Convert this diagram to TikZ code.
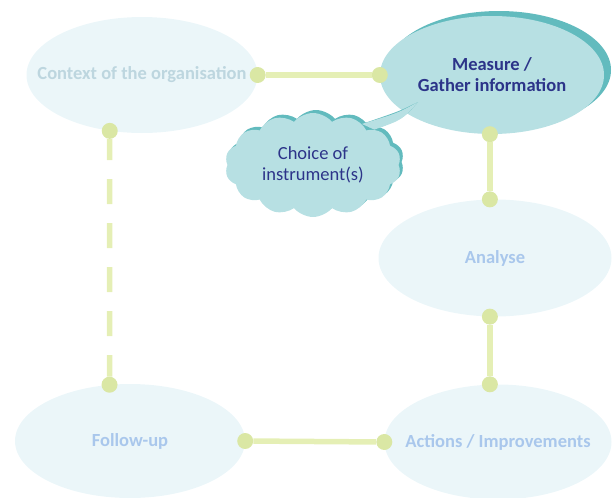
\documentclass[tikz,border=0pt]{standalone}
\usepackage{fontspec}
\setmainfont{Carlito}
\usetikzlibrary{shapes.geometric,shapes.symbols,shadows}
\definecolor{palefill}{HTML}{EBF6F9}
\definecolor{paletext}{HTML}{A9C7EC}
\definecolor{greytext}{HTML}{BDD6DF}
\definecolor{tealfill}{HTML}{B7E0E3}
\definecolor{tealedge}{HTML}{62BBBE}
\definecolor{navytext}{HTML}{2C3489}
\definecolor{linkgreen}{HTML}{E5EFB5}
\definecolor{knobgreen}{HTML}{DAE7A4}
\newcommand{\nowidth}[1]{\makebox[0pt]{#1}}

\begin{document}
\begin{tikzpicture}[x=1pt,y=-1pt,
  stage/.style={ellipse,inner sep=0pt,font=\fontsize{18.5}{21}\selectfont\bfseries},
  faded/.style={stage,fill=palefill,text=paletext},
  active/.style={stage,fill=tealfill,text=navytext,align=center,
    general shadow={fill=tealedge,shadow xshift=7pt,shadow yshift=5pt}},
  knob/.style={circle,fill=knobgreen,inner sep=0pt,minimum size=16pt},
  link/.style={draw=linkgreen,line width=5.5pt}]
\useasboundingbox (0,0) rectangle (614,498);

\node (context) [faded,text=greytext,minimum width=231pt,minimum height=116pt] at (142,75) {\nowidth{Context of the organisation}};
\node (measure) [active,minimum width=224pt,minimum height=118pt] at (492,75) {Measure /\\Gather information};
\node (analyse) [faded,minimum width=233pt,minimum height=117pt] at (495,258) {Analyse};
\node (actions) [faded,minimum width=227pt,minimum height=115pt] at (498,442) {\nowidth{Actions / Improvements}};
\node (follow) [faded,minimum width=230pt,minimum height=114pt] at (130,441) {Follow-up};

\node (choice) [cloud,cloud puffs=14,cloud puff arc=100,aspect=1.7,inner sep=0pt,
  minimum width=176pt,minimum height=104pt,fill=tealfill,text=navytext,
  align=center,font=\fontsize{18.5}{21}\selectfont,
  general shadow={fill=tealedge,shadow xshift=3pt,shadow yshift=3pt}]
  at (313,165) {Choice of\\instrument(s)};
\coordinate (tip) at (418,102);
\fill [tealedge,xshift=2pt,yshift=2pt] (choice.30) .. controls (402,120) .. (tip) .. controls (398,113) .. (choice.40) -- cycle;
\fill [tealfill] (choice.30) .. controls (402,120) .. (tip) .. controls (398,113) .. (choice.40) -- cycle;

\node (k1) [knob] at (context.east) {};
\node (k2) [knob] at (measure.west) {};
\node (k4) [knob] at (analyse.95) {};
\node (k3) [knob] at (k4 |- measure.south) {};
\node (k5) [knob] at (analyse.-95) {};
\node (k6) [knob] at (k5 |- actions.north) {};
\node (k7) [knob] at (actions.west) {};
\node (k8) [knob] at (follow.east) {};
\node (k9) [knob] at (follow.110) {};
\node (k10) [knob] at (context.-120) {};

\draw [link] (k1) -- (k2);
\draw [link] (k3) -- (k4);
\draw [link] (k5) -- (k6);
\draw [link] (k7) -- (k8);
\draw [link,dash pattern=on 25pt off 19pt,dash phase=4pt] (k10) -- (k9);
\end{tikzpicture}
\end{document}
